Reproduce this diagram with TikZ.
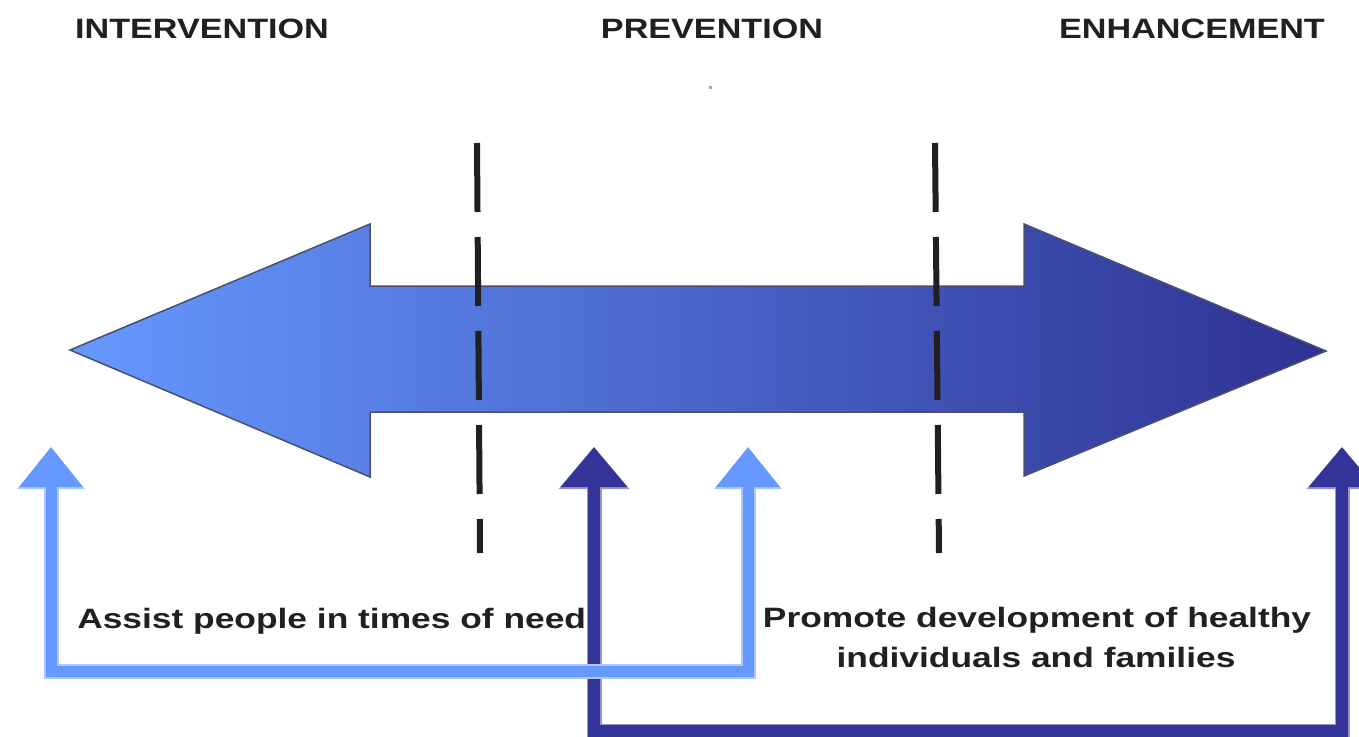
\documentclass[tikz,border=0pt]{standalone}
\usepackage{fontspec}
\setmainfont{Liberation Sans}
\usetikzlibrary{arrows.meta}
\definecolor{lightb}{RGB}{102,153,255}
\definecolor{lightbb}{RGB}{172,200,255}
\definecolor{darkb}{RGB}{51,51,153}
\definecolor{darkbb}{RGB}{150,150,205}
\definecolor{gradL}{RGB}{102,153,255}
\definecolor{gradR}{RGB}{46,49,146}
\definecolor{txt}{RGB}{35,31,32}
\definecolor{edge}{RGB}{72,80,112}
\begin{document}
\begin{tikzpicture}[x=1pt,y=-1pt,
  lbl/.style={font=\fontsize{28}{40}\selectfont\bfseries, text=txt, inner sep=0pt, xscale=1.22},
  body/.style={lbl, xscale=1.035},
  dashline/.style={line width=6pt, draw=txt, dash pattern=on 69pt off 25pt},
  lightouter/.style={line width=15pt, draw=lightbb, {Triangle[width=65pt,length=42pt]}-{Triangle[width=65pt,length=42pt]}},
  lightinner/.style={line width=11pt, draw=lightb, {Triangle[width=61pt,length=40pt]}-{Triangle[width=61pt,length=40pt]}},
  darkouter/.style={line width=15pt, draw=darkbb, {Triangle[width=68pt,length=42pt]}-{Triangle[width=68pt,length=42pt]}},
  darkinner/.style={line width=12pt, draw=darkb, {Triangle[width=64pt,length=40pt]}-{Triangle[width=64pt,length=40pt]}}]
\useasboundingbox (0,0) rectangle (1359,736);
\fill[white] (0,0) rectangle (1359,736);

% titles
\node[lbl, anchor=base] (int) at (202,38) {INTERVENTION};
\node[lbl, anchor=base] (pre) at (712,38) {PREVENTION};
\node[lbl, anchor=base] (enh) at (1192,38) {ENHANCEMENT};
\fill[gray!70] (708.5,85.5) rectangle (711.5,88.5);

% big double arrow
\shade[left color=gradL, right color=gradR, draw=edge, line width=1.5pt]
  (70,350) -- (370,224) -- (370,286) -- (1024,286) -- (1024,224) -- (1326,351)
  -- (1024,476) -- (1024,412) -- (370,412) -- (370,477) -- cycle;

% dashed separators
\coordinate (d1t) at (477,143); \coordinate (d1b) at (480,553);
\coordinate (d2t) at (935,143); \coordinate (d2b) at (939,553);
\draw[dashline] (d1t) -- (d1b);
\draw[dashline] (d2t) -- (d2b);

% dark bracket
\coordinate (da) at (594,447); \coordinate (dc1) at (594,731);
\coordinate (dc2) at (1342,731); \coordinate (db) at (1342,447);
\draw[darkouter] (da) -- (dc1) -- (dc2) -- (db);
\draw[darkinner] (da) -- (dc1) -- (dc2) -- (db);

% light bracket
\coordinate (la) at (51,447); \coordinate (lc1) at (51,671);
\coordinate (lc2) at (748,671); \coordinate (lb) at (748,447);
\draw[lightouter] (la) -- (lc1) -- (lc2) -- (lb);
\draw[lightinner] (la) -- (lc1) -- (lc2) -- (lb);

% texts
\node[body, anchor=base west] (assist) at (77,628) {Assist people in times of need};
\node[body, anchor=base] (prom1) at (1037,627) {Promote development of healthy};
\node[body, anchor=base] (prom2) at (1036,667) {individuals and families};
\end{tikzpicture}
\end{document}
